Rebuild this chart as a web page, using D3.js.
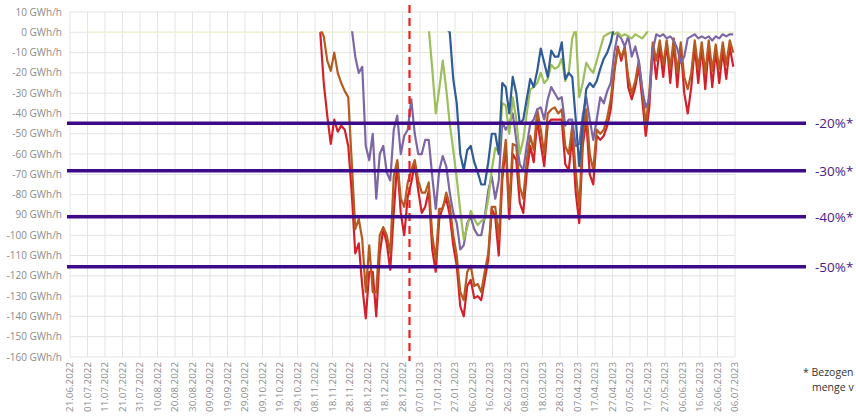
<!DOCTYPE html>
<html>
<head>
<meta charset="utf-8">
<script src="https://cdn.jsdelivr.net/npm/d3@7"></script>
<style>
  body { margin: 0; background: #fff; overflow: hidden; }
  svg { display: block; }
  text { font-family: "Open Sans", "Liberation Sans", sans-serif; }
</style>
</head>
<body>
<svg id="chart" width="856" height="417"></svg>
<script>
// daily series, one value every 2 days from 11.11.2022 (null = no data)
const seriesStart = "2022-11-11";
const stepDays = 2;

const red = [0,-25,-41,-55,-43,-49,-46,-48,-56,-79,-109,-104,-125,-141,-118,-118,-140,-109,-97,-104,
  -117,-89,-64,-89,-100,-81,-74,-65,-78,-89,-86,-78,-107,-118,-92,-86,-82,-90,-105,-115,
  -135,-140,-125,-122,-131,-130,-132,-122,-112,-87,-91,-110,-73,-56,-92,-60,-63,-84,-89,-69,
  -56,-64,-43,-55,-66,-45,-43,-43,-43,-43,-65,-68,-51,-79,-94,-56,-43,-70,-75,-51,
  -53,-51,-46,-38,-20,-7,-14,-7,-27,-33,-27,-17,-33,-51,-37,-7,-23,-7,-22,-5,
  -25,-5,-27,-7,-30,-40,-27,-7,-25,-7,-28,-7,-27,-9,-25,-9,-23,-7,-17];

const brown = [2,-2,-14,-19,-10,-20,-25,-29,-32,-64,-97,-92,-102,-128,-105,-128,-128,-100,-96,-100,
  -109,-71,-63,-82,-86,-74,-68,-63,-73,-79,-79,-74,-100,-112,-87,-87,-79,-85,-100,-110,
  -128,-132,-118,-115,-125,-124,-128,-118,-109,-86,-86,-102,-68,-53,-86,-55,-56,-76,-82,-63,
  -51,-58,-38,-48,-60,-40,-38,-37,-40,-38,-56,-60,-46,-69,-86,-51,-38,-60,-68,-48,
  -50,-48,-42,-33,-18,-8,-12,-8,-22,-30,-24,-14,-28,-46,-30,-5,-14,-4,-16,-4,
  -18,-3,-20,-5,-22,-28,-20,-4,-18,-5,-20,-4,-19,-6,-18,-5,-16,-4,-10];

const purple = [null,null,null,null,null,null,null,null,null,2,-12,-20,-17,-56,-63,-50,-82,-60,-56,-69,
  -73,-48,-41,-60,-51,-48,-33,-50,-60,-60,-53,-53,-71,-87,-68,-61,-66,-79,-89,-94,
  -107,-105,-94,-91,-97,-100,-100,-91,-78,-71,-82,-73,-44,-48,-45,-40,-53,-65,-68,-56,
  -45,-43,-38,-37,-43,-33,-27,-30,-33,-32,-46,-43,-43,-56,-55,-41,-32,-43,-53,-43,
  -32,-35,-29,-25,-10,-1,-3,-7,-2,-12,-7,-14,-28,-37,-33,-9,-1,-2,-1,-3,
  -2,-4,-8,-15,-12,-3,-2,-1,-3,-2,-3,-2,-4,-2,-3,-1,-2,-1,-1];

const green = [null,null,null,null,null,null,null,null,null,null,null,null,null,null,null,null,null,null,null,null,
  null,null,null,null,null,null,null,null,null,null,null,2,-18,-40,-28,-14,-28,-45,-58,-72,
  -88,-102,-96,-88,-92,-95,-93,-92,-82,-68,-57,-59,-35,-36,-50,-32,-43,-60,-53,-40,
  -28,-27,-25,-20,-25,-23,-16,-18,-17,-13,-24,-20,-3,2,-32,-25,-15,-18,-20,-14,
  -8,-2,-1,0,-1,0,-2,-1,-2,-3,-1,-2,-3,-1,2,3,3,3,3,3,
  3,3,3,3,3,3,3,3,3,3,3,3,3,3,3,3,3,3,3];

const blue = [null,null,null,null,null,null,null,null,null,null,null,null,null,null,null,null,null,null,null,null,
  null,null,null,null,null,null,null,null,null,null,null,null,null,null,null,null,2,0,-23,-35,
  -60,-68,-58,-56,-64,-69,-75,-75,-64,-50,-50,-60,-25,-27,-40,-22,-30,-45,-43,-33,
  -23,-27,-19,-8,-15,-22,-9,-12,-12,-5,-23,-20,-22,-43,-66,-45,-28,-25,-27,-24,
  -18,-13,-10,-5,3,3,3,3,3,3,3,3,3,3,3,3,3,3,3,3,
  3,3,3,3,3,3,3,3,3,3,3,3,3,3,3,3,3,3,3];

const seriesNames = ["red", "brown", "purple", "green", "blue"];
const seriesValues = [red, brown, purple, green, blue];
const seriesColors = ["#d3202a", "#b65a1f", "#7d66a6", "#9cbf5b", "#2f5c96"];

// pale series lying on the zero line
const zeroDates = ["2022-07-01", "2023-07-06"];
const zeroValues = [0, 0];

// reduction thresholds (GWh/h) and their labels
const thresholdValues = [-44.8, -68.2, -90.9, -115.5];
const thresholdLabels = ["-20%*", "-30%*", "-40%*", "-50%*"];

const markerDate = "2023-01-01";

const yTickValues = [10,0,-10,-20,-30,-40,-50,-60,-70,-80,-90,-100,-110,-120,-130,-140,-150,-160];
const yTickLabels = ["10 GWh/h","0 GWh/h","-10 GWh/h","-20 GWh/h","-30 GWh/h","-40 GWh/h","-50 GWh/h",
  "-60 GWh/h","-70 GWh/h","-80 GWh/h","90 GWh/h","-100 GWh/h","-110 GWh/h","-120 GWh/h","-130 GWh/h",
  "-140 GWh/h","-150 GWh/h","-160 GWh/h"];

const xTickLabels = ["21.06.2022","01.07.2022","11.07.2022","21.07.2022","31.07.2022","10.08.2022",
  "20.08.2022","30.08.2022","09.09.2022","19.09.2022","29.09.2022","09.10.2022","19.10.2022",
  "29.10.2022","08.11.2022","18.11.2022","28.11.2022","08.12.2022","18.12.2022","28.12.2022",
  "07.01.2023","17.01.2023","27.01.2023","06.02.2023","16.02.2023","26.02.2023","08.03.2023",
  "18.03.2023","28.03.2023","07.04.2023","17.04.2023","27.04.2023","07.05.2023","17.05.2023",
  "27.05.2023","06.06.2023","16.06.2023","26.06.2023","06.07.2023"];

const footnote = ["* Bezogen", "menge v"];

const parseDMY = d3.timeParse("%d.%m.%Y");
const parseISO = d3.timeParse("%Y-%m-%d");

const plot = {left: 70, right: 735, top: 12, bottom: 357};

const svg = d3.select("#chart");

const x = d3.scaleTime()
    .domain([parseDMY(xTickLabels[0]), parseDMY(xTickLabels[xTickLabels.length - 1])])
    .range([plot.left, plot.right]);

const y = d3.scaleLinear()
    .domain([-160, 10])
    .range([plot.bottom, plot.top]);

// grid
const grid = svg.append("g");
grid.selectAll("line.h")
    .data(yTickValues)
    .enter().append("line")
    .attr("x1", plot.left).attr("x2", plot.right)
    .attr("y1", d => y(d)).attr("y2", d => y(d))
    .attr("stroke", "#e3e3e3").attr("stroke-width", 1);

grid.selectAll("line.v")
    .data(xTickLabels)
    .enter().append("line")
    .attr("x1", d => x(parseDMY(d))).attr("x2", d => x(parseDMY(d)))
    .attr("y1", plot.top).attr("y2", plot.bottom)
    .attr("stroke", "#e3e3e3").attr("stroke-width", 1);

// y axis labels
svg.append("g").selectAll("text")
    .data(yTickValues)
    .enter().append("text")
    .attr("x", 62)
    .attr("y", d => y(d))
    .attr("dy", "0.35em")
    .attr("text-anchor", "end")
    .attr("font-size", 10)
    .attr("fill", "#8a8a8a")
    .text((d, i) => yTickLabels[i]);

// x axis labels, rotated
svg.append("g").selectAll("text")
    .data(xTickLabels)
    .enter().append("text")
    .attr("transform", d => `translate(${x(parseDMY(d))},362) rotate(-90)`)
    .attr("dy", "0.35em")
    .attr("text-anchor", "end")
    .attr("font-size", 9.8)
    .attr("fill", "#8a8a8a")
    .text(d => d);

// clip: lines are cut at the zero line
svg.append("clipPath").attr("id", "clip")
    .append("rect")
    .attr("x", plot.left).attr("y", y(0) - 1)
    .attr("width", plot.right - plot.left).attr("height", plot.bottom - y(0) + 1);

svg.append("path")
    .datum(zeroDates.map((d, i) => ({date: parseISO(d), v: zeroValues[i]})))
    .attr("d", d3.line().x(d => x(d.date)).y(d => y(d.v)))
    .attr("fill", "none")
    .attr("stroke", "#eef4d2")
    .attr("stroke-width", 1.5);

const t0 = parseISO(seriesStart);
const line = d3.line()
    .defined(d => d.v != null)
    .x(d => x(d.date))
    .y(d => y(d.v));

const lines = svg.append("g").attr("clip-path", "url(#clip)");
seriesValues.forEach((vals, s) => {
    const pts = vals.map((v, i) => ({date: d3.timeDay.offset(t0, i * stepDays), v: v}));
    lines.append("path")
        .datum(pts)
        .attr("class", seriesNames[s])
        .attr("d", line)
        .attr("fill", "none")
        .attr("stroke", seriesColors[s])
        .attr("stroke-width", 2.2)
        .attr("stroke-linejoin", "round");
});

// red dashed marker
svg.append("line")
    .attr("x1", x(parseISO(markerDate))).attr("x2", x(parseISO(markerDate)))
    .attr("y1", 5).attr("y2", 361)
    .attr("stroke", "#f01c1c")
    .attr("stroke-width", 2.2)
    .attr("stroke-dasharray", "8,5");

// threshold lines
const th = svg.append("g");
th.selectAll("line")
    .data(thresholdValues)
    .enter().append("line")
    .attr("x1", 67).attr("x2", 806)
    .attr("y1", d => y(d)).attr("y2", d => y(d))
    .attr("stroke", "#3d0a8a")
    .attr("stroke-width", 3.5);

th.selectAll("text")
    .data(thresholdValues)
    .enter().append("text")
    .attr("x", 815)
    .attr("y", d => y(d))
    .attr("dy", "0.38em")
    .attr("font-size", 13.5)
    .attr("fill", "#4a1a8c")
    .text((d, i) => thresholdLabels[i]);

// footnote, as far as it fits on the page
svg.append("g").selectAll("text")
    .data(footnote)
    .enter().append("text")
    .attr("x", (d, i) => i === 0 ? 803 : 812)
    .attr("y", (d, i) => 376 + i * 14.5)
    .attr("font-size", 10.5)
    .attr("fill", "#333")
    .text(d => d);
</script>
</body>
</html>
